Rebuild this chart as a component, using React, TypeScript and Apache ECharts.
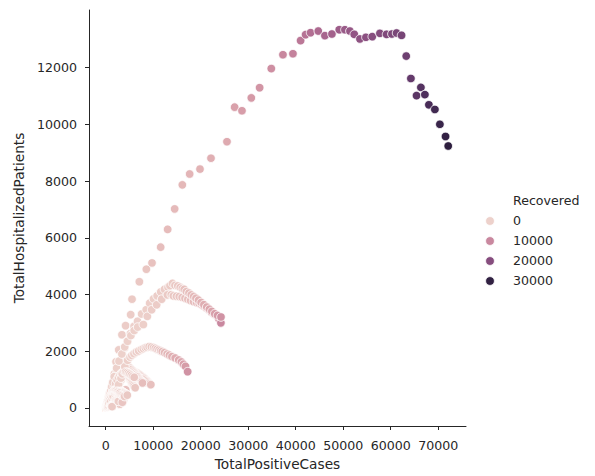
import React, { useEffect, useRef } from "react";
import * as echarts from "echarts";

const X_TICKS = [0, 10000, 20000, 30000, 40000, 50000, 60000, 70000];
const Y_TICKS = [0, 2000, 4000, 6000, 8000, 10000, 12000];
const X_NAME = "TotalPositiveCases";
const Y_NAME = "TotalHospitalizedPatients";
const LEGEND_TITLE = "Recovered";
const LEGEND_VALUES = [0, 10000, 20000, 30000];

// Lombardia
const LOM_POS = [172, 240, 258, 403, 531, 615, 984, 1254, 1520, 1824, 2174, 2735, 3420, 4189, 5260, 5541, 7084, 8557, 9750, 11573, 13046, 14519, 16132, 17675, 19850, 22165, 25531, 27145, 28688, 30652, 32405, 34860, 37315, 39419, 41032, 42084, 43136, 44750, 46152, 47625, 49169, 50361, 51413, 52325, 53517, 54780, 56113, 57726, 59129, 60251, 61233, 62285, 63267, 64249, 65441, 66353, 67195, 68037, 69299, 70351, 71543, 72104];
const LOM_HOSP = [76, 79, 79, 172, 235, 256, 406, 478, 661, 1200, 1626, 2045, 2579, 2900, 3288, 3834, 4449, 4891, 5112, 5669, 6296, 7017, 7865, 8248, 8422, 8806, 9387, 10606, 10478, 10932, 11292, 11966, 12454, 12489, 12953, 13162, 13232, 13290, 13127, 13185, 13336, 13336, 13290, 13174, 13011, 13069, 13092, 13209, 13174, 13185, 13220, 13139, 12407, 11617, 11013, 11303, 11048, 10688, 10525, 10002, 9572, 9236];
const LOM_REC = [0, 0, 0, 0, 0, 40, 40, 73, 139, 139, 250, 376, 469, 524, 550, 900, 1200, 1500, 2000, 2500, 2800, 3100, 3400, 3700, 4000, 4500, 5200, 6500, 7000, 7500, 8200, 9000, 10200, 11000, 12500, 13300, 14000, 14800, 15500, 16200, 17000, 17500, 18000, 18500, 19000, 19400, 19800, 20200, 20600, 21000, 21400, 21800, 23000, 24000, 25000, 25700, 26500, 27300, 28100, 29000, 29800, 30500];

// Emilia-Romagna
const EMR_POS = [18, 26, 47, 97, 145, 217, 285, 335, 420, 544, 698, 870, 1180, 1386, 1739, 2263, 2644, 3093, 3522, 4020, 4525, 5214, 5968, 6705, 7555, 8535, 9254, 10054, 10816, 11588, 12383, 13119, 13531, 14074, 14586, 15175, 15690, 16150, 16540, 16992, 17527, 18010, 18538, 19008, 19553, 20104, 20676, 21275, 21834, 22355, 22959, 23560, 24270];
const EMR_HOSP = [8, 10, 20, 40, 60, 90, 120, 160, 210, 300, 420, 530, 700, 820, 980, 1200, 1420, 1650, 1900, 2120, 2350, 2620, 2881, 3055, 3311, 3462, 3694, 3845, 3950, 4089, 4182, 4252, 4310, 4391, 4322, 4300, 4252, 4205, 4180, 4101, 4050, 3985, 3930, 3868, 3800, 3717, 3640, 3555, 3480, 3404, 3320, 3260, 3206];
const EMR_REC = [0, 0, 0, 0, 0, 0, 0, 0, 0, 0, 0, 0, 0, 0, 0, 0, 0, 0, 0, 10, 20, 30, 50, 70, 100, 150, 200, 270, 350, 450, 550, 680, 820, 980, 1150, 1350, 1550, 1800, 2050, 2300, 2600, 2900, 3200, 3550, 3900, 4300, 4700, 5100, 5600, 6100, 6700, 7500, 8500];

// Piemonte
const PIE_POS = [3, 6, 11, 28, 49, 56, 82, 143, 207, 294, 350, 450, 580, 720, 880, 1100, 1300, 1500, 1800, 2300, 2800, 3400, 4000, 4600, 5300, 6000, 6733, 7925, 8767, 9679, 10731, 11784, 12976, 13800, 14238, 14900, 15501, 16100, 16694, 17300, 17886, 18500, 19148, 19700, 20200, 20700, 21253, 21800, 22305, 22800, 23358, 23800, 24250];
const PIE_HOSP = [2, 3, 5, 10, 20, 25, 40, 70, 100, 150, 180, 220, 300, 400, 500, 600, 750, 900, 1100, 1400, 1650, 1900, 2150, 2350, 2550, 2730, 2850, 2939, 3229, 3462, 3636, 3834, 3985, 3990, 3950, 3940, 3927, 3900, 3868, 3830, 3787, 3750, 3717, 3680, 3636, 3580, 3520, 3450, 3369, 3310, 3253, 3150, 2997];
const PIE_REC = [0, 0, 0, 0, 0, 0, 0, 0, 0, 0, 0, 0, 0, 0, 0, 0, 0, 0, 0, 0, 0, 5, 10, 20, 40, 80, 150, 250, 350, 500, 650, 800, 950, 1100, 1300, 1500, 1700, 1950, 2200, 2450, 2700, 3000, 3300, 3600, 3950, 4300, 4700, 5100, 5600, 6200, 7000, 8000, 10000];

// Veneto
const VEN_POS = [38, 43, 71, 111, 151, 191, 263, 273, 307, 360, 380, 488, 543, 670, 744, 1023, 1384, 1595, 1937, 2172, 2473, 2704, 3214, 3484, 4031, 4617, 5122, 5505, 5948, 6442, 6935, 7497, 7930, 8358, 8724, 9155, 9625, 10111, 10463, 10824, 11226, 11588, 11925, 12402, 12930, 13421, 13950, 14624, 15374, 15936, 16364, 16800, 17255];
const VEN_HOSP = [10, 12, 15, 20, 25, 30, 40, 45, 50, 60, 70, 90, 100, 130, 160, 220, 320, 400, 500, 600, 700, 820, 1050, 1200, 1450, 1680, 1790, 1850, 1910, 1970, 2010, 2060, 2091, 2120, 2140, 2161, 2150, 2126, 2100, 2068, 2040, 2010, 1985, 1950, 1900, 1860, 1810, 1760, 1690, 1620, 1540, 1464, 1278];
const VEN_REC = [0, 0, 0, 0, 0, 0, 0, 0, 0, 0, 0, 0, 0, 0, 0, 0, 0, 0, 0, 5, 10, 20, 30, 50, 80, 120, 170, 230, 300, 380, 470, 570, 680, 800, 930, 1080, 1250, 1450, 1680, 1930, 2200, 2500, 2850, 3200, 3600, 4000, 4450, 4900, 5400, 5900, 6500, 7100, 8500];

// low-hospitalisation group
const LOW_POS = [550, 912, 2665, 2805, 3010, 3717, 4208, 5470, 5961, 6870, 7224, 8630, 8908];
const LOW_HOSP = [153, 116, 186, 534, 268, 267, 639, 850, 790, 885, 906, 906, 883];
const LOW_REC = [1800, 1850, 2000, 2050, 2100, 2200, 2300, 2500, 2600, 2700, 2800, 2900, 3000];

// Toscana
const TOS_POS = [2, 13, 37, 79, 166, 264, 364, 630, 1055, 1588, 2001, 2461, 2972, 3706, 4412, 5166, 5671, 6070, 6496, 6919, 7253, 7550, 7833, 8102, 8378, 8682, 8900, 9100, 9300, 9500];
const TOS_HOSP = [1, 5, 15, 30, 60, 100, 150, 250, 400, 600, 750, 900, 1050, 1200, 1280, 1320, 1300, 1270, 1240, 1200, 1160, 1120, 1080, 1040, 1000, 960, 920, 880, 850, 820];
const TOS_REC = [0, 0, 0, 0, 0, 0, 0, 0, 0, 5, 10, 20, 40, 70, 110, 170, 250, 350, 470, 600, 750, 900, 1050, 1200, 1350, 1500, 1700, 1900, 2100, 2300];

// Liguria
const LIG_POS = [1, 20, 26, 52, 135, 258, 528, 887, 1378, 2007, 2782, 3335, 3822, 4366, 4633, 4910, 5200, 5500, 5800, 6000, 6200, 6400, 6600, 6800, 7000, 7150, 7300, 7450, 7600, 7750];
const LIG_HOSP = [1, 10, 12, 20, 50, 100, 200, 350, 550, 800, 1050, 1250, 1380, 1450, 1470, 1440, 1400, 1350, 1300, 1260, 1220, 1180, 1140, 1100, 1050, 1010, 970, 940, 910, 880];
const LIG_REC = [0, 0, 0, 0, 0, 0, 0, 0, 5, 10, 20, 40, 80, 130, 200, 280, 370, 480, 600, 730, 870, 1020, 1180, 1350, 1530, 1720, 1920, 2130, 2350, 2600];

// Lazio
const LAZ_POS = [3, 3, 3, 6, 14, 30, 49, 81, 140, 220, 310, 440, 610, 800, 1000, 1250, 1500, 1800, 2100, 2400, 2700, 3000, 3300, 3600, 3900, 4200, 4500, 4800, 5100, 5400, 5700, 6000];
const LAZ_HOSP = [3, 3, 3, 4, 6, 10, 20, 35, 60, 100, 140, 190, 260, 340, 420, 520, 620, 740, 860, 980, 1080, 1160, 1220, 1260, 1280, 1270, 1250, 1220, 1190, 1150, 1110, 1080];
const LAZ_REC = [0, 0, 1, 1, 1, 1, 2, 2, 3, 3, 3, 3, 4, 5, 8, 15, 25, 40, 60, 90, 130, 180, 240, 310, 390, 480, 580, 690, 810, 940, 1080, 1230];

// Marche
const MAR_POS = [1, 6, 25, 84, 199, 394, 592, 779, 1133, 1371, 1567, 1910, 2153, 2419, 2736, 3077, 3373, 3784, 4195, 4543, 4850, 5000, 5150, 5300, 5450, 5600, 5750, 5900, 6050, 6200];
const MAR_HOSP = [0, 2, 10, 30, 70, 130, 200, 260, 360, 430, 500, 600, 680, 760, 850, 940, 1000, 1060, 1100, 1090, 1060, 1030, 990, 950, 910, 870, 830, 790, 750, 710];
const MAR_REC = [0, 0, 0, 0, 0, 0, 0, 0, 0, 0, 2, 5, 10, 20, 35, 55, 80, 110, 150, 200, 260, 330, 410, 500, 600, 710, 830, 960, 1100, 1250];

// Campania
const CAM_POS = [3, 17, 69, 154, 303, 460, 616, 769, 946, 1101, 1310, 1454, 1592, 1759, 1940, 2092, 2231, 2376, 2520, 2700, 2880, 3050, 3250, 3450, 3650, 3850, 4050, 4250, 4400, 4550];
const CAM_HOSP = [1, 6, 30, 60, 100, 150, 200, 260, 320, 380, 430, 480, 520, 560, 600, 630, 650, 660, 650, 640, 625, 610, 590, 570, 550, 530, 510, 490, 470, 450];
const CAM_REC = [0, 0, 0, 0, 1, 1, 2, 4, 8, 12, 20, 30, 45, 60, 80, 100, 130, 160, 200, 250, 300, 360, 420, 490, 570, 650, 740, 840, 950, 1070];

// Puglia
const PUG_POS = [3, 9, 26, 38, 51, 70, 105, 166, 248, 357, 462, 574, 731, 921, 1134, 1332, 1459, 1641, 1826, 2003, 2210, 2397, 2597, 2800, 3000, 3200, 3400, 3600, 3800, 4000];
const PUG_HOSP = [1, 5, 15, 22, 30, 40, 60, 90, 130, 180, 230, 270, 320, 380, 440, 480, 500, 520, 540, 550, 555, 545, 530, 515, 500, 480, 460, 440, 420, 400];
const PUG_REC = [0, 0, 0, 0, 0, 0, 0, 0, 1, 2, 3, 5, 8, 12, 18, 25, 35, 50, 70, 95, 125, 160, 200, 250, 310, 380, 460, 550, 650, 760];

// Sicilia
const SIC_POS = [3, 4, 5, 14, 19, 25, 45, 80, 120, 190, 260, 370, 500, 650, 840, 1050, 1250, 1450, 1650, 1850, 2050, 2250, 2450, 2650, 2850, 3050];
const SIC_HOSP = [0, 1, 2, 4, 6, 10, 18, 30, 50, 80, 120, 170, 230, 300, 370, 430, 480, 540, 580, 610, 620, 610, 590, 570, 550, 530];
const SIC_REC = [0, 0, 0, 0, 0, 1, 2, 2, 3, 5, 8, 12, 18, 25, 35, 50, 70, 95, 125, 160, 200, 250, 300, 360, 420, 500];

// Trento
const TRE_POS = [1, 4, 8, 30, 60, 120, 220, 360, 520, 700, 900, 1100, 1300, 1500, 1700, 1900, 2100, 2300, 2500, 2700, 2900, 3100, 3300, 3500];
const TRE_HOSP = [0, 2, 5, 15, 30, 60, 100, 160, 220, 290, 360, 410, 450, 460, 450, 430, 400, 370, 340, 310, 280, 250, 220, 200];
const TRE_REC = [0, 0, 0, 0, 0, 0, 1, 3, 10, 30, 60, 100, 150, 220, 300, 400, 520, 650, 800, 950, 1100, 1250, 1400, 1550];

// Friuli
const FVG_POS = [1, 5, 18, 40, 80, 120, 200, 300, 450, 600, 800, 1000, 1200, 1400, 1600, 1800, 2000, 2200, 2400, 2600, 2800, 3000];
const FVG_HOSP = [0, 2, 8, 15, 30, 50, 80, 120, 160, 200, 230, 250, 260, 255, 240, 220, 200, 180, 160, 150, 140, 130];
const FVG_REC = [0, 0, 0, 0, 0, 1, 2, 5, 12, 25, 50, 90, 140, 200, 280, 380, 480, 600, 720, 850, 980, 1100];

// Abruzzo
const ABR_POS = [1, 5, 11, 30, 70, 130, 220, 330, 450, 600, 750, 900, 1050, 1200, 1350, 1500, 1650, 1800, 1950, 2100, 2250, 2400, 2550, 2700];
const ABR_HOSP = [0, 3, 8, 20, 40, 70, 110, 160, 200, 240, 280, 310, 330, 340, 335, 325, 315, 300, 290, 275, 260, 250, 240, 230];
const ABR_REC = [0, 0, 0, 0, 0, 0, 0, 1, 3, 8, 15, 25, 40, 60, 85, 115, 150, 190, 240, 290, 350, 410, 480, 550];

// Umbria
const UMB_POS = [1, 2, 9, 25, 60, 120, 200, 300, 400, 520, 640, 760, 860, 950, 1030, 1100, 1160, 1210, 1250, 1280, 1300, 1320, 1340];
const UMB_HOSP = [0, 1, 4, 12, 25, 45, 70, 100, 120, 140, 150, 150, 140, 130, 120, 105, 95, 85, 75, 65, 55, 50, 45];
const UMB_REC = [0, 0, 0, 0, 0, 0, 1, 3, 8, 20, 40, 80, 150, 220, 300, 380, 460, 540, 620, 700, 780, 860, 940];

const REGIONS = [
  [LOW_POS, LOW_HOSP, LOW_REC],
  [UMB_POS, UMB_HOSP, UMB_REC],
  [ABR_POS, ABR_HOSP, ABR_REC],
  [FVG_POS, FVG_HOSP, FVG_REC],
  [TRE_POS, TRE_HOSP, TRE_REC],
  [SIC_POS, SIC_HOSP, SIC_REC],
  [PUG_POS, PUG_HOSP, PUG_REC],
  [CAM_POS, CAM_HOSP, CAM_REC],
  [MAR_POS, MAR_HOSP, MAR_REC],
  [LAZ_POS, LAZ_HOSP, LAZ_REC],
  [LIG_POS, LIG_HOSP, LIG_REC],
  [TOS_POS, TOS_HOSP, TOS_REC],
  [VEN_POS, VEN_HOSP, VEN_REC],
  [PIE_POS, PIE_HOSP, PIE_REC],
  [EMR_POS, EMR_HOSP, EMR_REC],
  [LOM_POS, LOM_HOSP, LOM_REC],
];

const FONT = "DejaVu Sans";
const TEXT = "#262626";

function buildData() {
  const out: number[][] = [];
  const maxLen = Math.max(...REGIONS.map((r) => r[0].length));
  for (let i = 0; i < maxLen; i++) {
    for (const [pos, hosp, rec] of REGIONS) {
      if (i < pos.length) out.push([pos[i], hosp[i], rec[i]]);
    }
  }
  return out;
}

const ALL_REC = REGIONS.flatMap((r) => r[2]);
const REC_MIN = Math.min(...ALL_REC);
const REC_MAX = Math.max(...ALL_REC);

// seaborn default cubehelix colormap (start=0, rot=0.4, hue=0.8, light=0.85, dark=0.15)
function hueColor(v: number): string {
  let t = (v - REC_MIN) / (REC_MAX - REC_MIN);
  t = Math.max(0, Math.min(1, t));
  const x = 0.85 - 0.7 * t;
  const a = (0.8 * x * (1 - x)) / 2;
  const phi = 2 * Math.PI * (0.4 * x);
  const c = Math.cos(phi);
  const s = Math.sin(phi);
  const r = x + a * (-0.14861 * c + 1.78277 * s);
  const g = x + a * (-0.29227 * c - 0.90649 * s);
  const b = x + a * (1.97294 * c);
  const to = (u: number) => Math.round(Math.max(0, Math.min(1, u)) * 255);
  return `rgb(${to(r)},${to(g)},${to(b)})`;
}

export default function App() {
  const ref = useRef<HTMLDivElement>(null);
  useEffect(() => {
    if (!ref.current) return;
    const chart = echarts.init(ref.current, null, { renderer: "svg" });
    const legendItems: any[] = [
      {
        type: "text",
        left: 513,
        top: 194,
        style: { text: LEGEND_TITLE, fill: TEXT, font: `12.6px "${FONT}"` },
      },
    ];
    LEGEND_VALUES.forEach((v, i) => {
      const cy = 221 + i * 20;
      legendItems.push({
        type: "circle",
        shape: { cx: 490, cy, r: 4.4 },
        style: { fill: hueColor(v), stroke: "#ffffff", lineWidth: 0.8 },
      });
      legendItems.push({
        type: "text",
        left: 513,
        top: cy - 7,
        style: { text: String(v), fill: TEXT, font: `12.6px "${FONT}"` },
      });
    });
    chart.setOption({
      animation: false,
      backgroundColor: "#ffffff",
      grid: { left: 89, right: 129, top: 10, bottom: 45, containLabel: false },
      xAxis: {
        type: "value",
        min: -3516,
        max: 75850,
        name: X_NAME,
        nameLocation: "middle",
        nameGap: 31,
        nameTextStyle: { fontSize: 13.7, color: TEXT, fontFamily: FONT },
        axisLine: { show: true, onZero: false, lineStyle: { color: TEXT, width: 1 } },
        axisTick: { show: true, length: 4, customValues: X_TICKS, lineStyle: { color: TEXT } },
        axisLabel: {
          customValues: X_TICKS,
          fontSize: 12.6,
          color: TEXT,
          fontFamily: FONT,
          margin: 13,
          formatter: (v: number) => String(v),
        },
        splitLine: { show: false },
      },
      yAxis: {
        type: "value",
        min: -638,
        max: 14032,
        name: Y_NAME,
        nameLocation: "middle",
        nameGap: 62,
        nameTextStyle: { fontSize: 13.7, color: TEXT, fontFamily: FONT },
        axisLine: { show: true, onZero: false, lineStyle: { color: TEXT, width: 1 } },
        axisTick: { show: true, length: 4, customValues: Y_TICKS, lineStyle: { color: TEXT } },
        axisLabel: {
          customValues: Y_TICKS,
          fontSize: 12.6,
          color: TEXT,
          fontFamily: FONT,
          margin: 12,
          formatter: (v: number) => String(v),
        },
        splitLine: { show: false },
      },
      series: [
        {
          type: "scatter",
          data: buildData(),
          symbolSize: 8.6,
          itemStyle: {
            color: (p: any) => hueColor(p.data[2]),
            borderColor: "#ffffff",
            borderWidth: 0.8,
            opacity: 1,
          },
        },
      ],
      graphic: legendItems,
    });
    return () => chart.dispose();
  }, []);
  return (
    <div
      ref={ref}
      style={{ position: "fixed", left: 0, top: 0, width: 595, height: 476, background: "#fff" }}
    />
  );
}
